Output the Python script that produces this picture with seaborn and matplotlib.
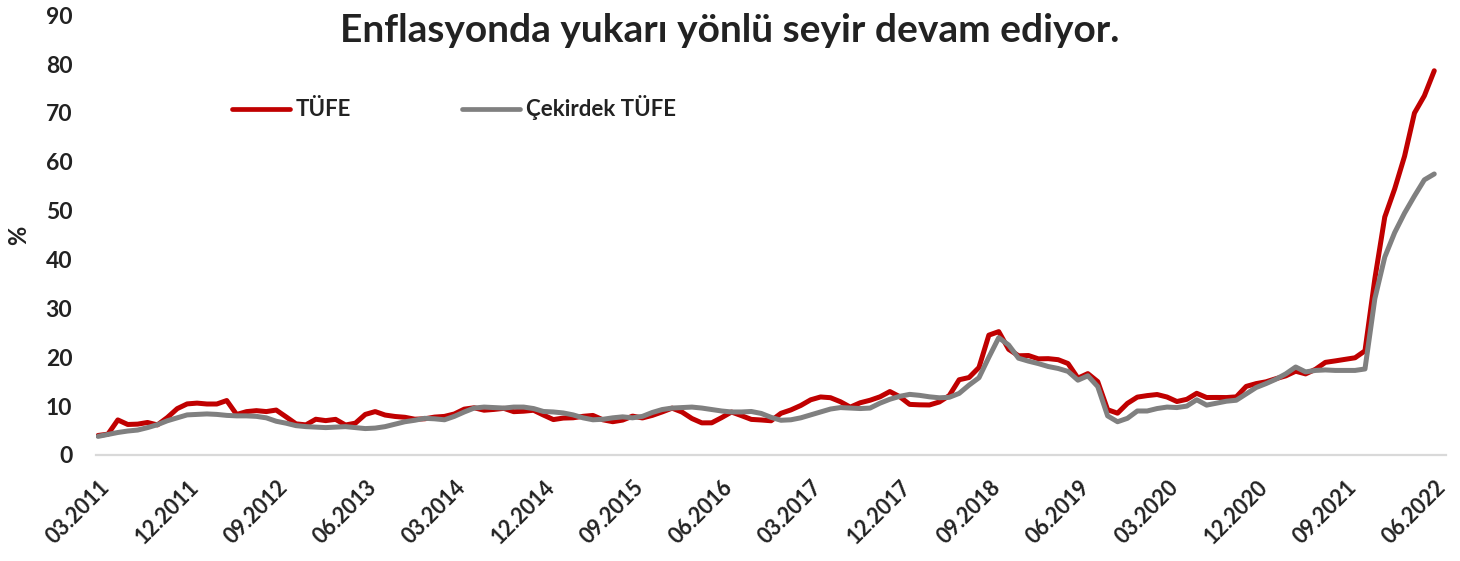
import matplotlib
matplotlib.use("Agg")
import matplotlib.pyplot as plt
import matplotlib.transforms as mtransforms
import pandas as pd
import seaborn as sns

# Monthly annual inflation, 03.2011 - 06.2022 (%)
tufe = [
    3.99, 4.26, 7.17, 6.24, 6.31, 6.65, 6.15, 7.66, 9.48, 10.45,              # 2011 (Mar-Dec)
    10.61, 10.43, 10.43, 11.14, 8.28, 8.87, 9.07, 8.88, 9.19, 7.80, 6.37, 6.16,  # 2012
    7.31, 7.03, 7.29, 6.13, 6.51, 8.30, 8.88, 8.17, 7.88, 7.71, 7.32, 7.40,    # 2013
    7.75, 7.89, 8.39, 9.38, 9.66, 9.16, 9.32, 9.54, 8.86, 8.96, 9.15, 8.17,    # 2014
    7.24, 7.55, 7.61, 7.91, 8.09, 7.20, 6.81, 7.14, 7.95, 7.58, 8.10, 8.81,    # 2015
    9.58, 8.78, 7.46, 6.57, 6.58, 7.64, 8.79, 8.05, 7.28, 7.16, 7.00, 8.53,    # 2016
    9.22, 10.13, 11.29, 11.87, 11.72, 10.90, 9.79, 10.68, 11.20, 11.90, 12.98, 11.92,  # 2017
    10.35, 10.26, 10.23, 10.85, 12.15, 15.39, 15.85, 17.90, 24.52, 25.24, 21.62, 20.30,  # 2018
    20.35, 19.67, 19.71, 19.50, 18.71, 15.72, 16.65, 15.01, 9.26, 8.55, 10.56, 11.84,  # 2019
    12.15, 12.37, 11.86, 10.94, 11.39, 12.62, 11.76, 11.77, 11.75, 11.89, 14.03, 14.60,  # 2020
    14.97, 15.61, 16.19, 17.14, 16.59, 17.53, 18.95, 19.25, 19.58, 19.89, 21.31, 36.08,  # 2021
    48.69, 54.44, 61.14, 69.97, 73.50, 78.62,                                    # 2022 (Jan-Jun)
]

cekirdek = [
    3.8, 4.2, 4.6, 4.9, 5.1, 5.6, 6.2, 7.0, 7.6, 8.2,
    8.3, 8.4, 8.3, 8.1, 8.0, 8.0, 7.9, 7.6, 6.9, 6.5, 6.0, 5.8,
    5.7, 5.6, 5.7, 5.8, 5.6, 5.4, 5.5, 5.8, 6.3, 6.8, 7.1, 7.5,
    7.4, 7.2, 7.9, 8.8, 9.6, 9.8, 9.7, 9.6, 9.8, 9.8, 9.5, 8.9,
    8.8, 8.6, 8.2, 7.6, 7.2, 7.3, 7.6, 7.8, 7.6, 7.9, 8.7, 9.3,
    9.6, 9.7, 9.8, 9.6, 9.3, 9.0, 8.8, 8.8, 8.9, 8.5, 7.7, 7.1,
    7.2, 7.6, 8.2, 8.8, 9.4, 9.7, 9.6, 9.5, 9.6, 10.6, 11.4, 12.0,
    12.4, 12.2, 11.9, 11.7, 11.8, 12.6, 14.3, 15.8, 20.0, 24.0, 22.5, 19.8,
    19.2, 18.7, 18.1, 17.7, 17.1, 15.3, 16.2, 14.0, 8.0, 6.8, 7.5, 9.0,
    9.0, 9.5, 9.8, 9.7, 10.0, 11.3, 10.2, 10.6, 11.0, 11.2, 12.5, 13.8,
    14.6, 15.5, 16.6, 18.0, 17.0, 17.3, 17.4, 17.3, 17.3, 17.3, 17.6, 32.0,
    40.5, 45.5, 49.5, 53.0, 56.3, 57.5,
]

tick_labels = ["03.2011", "12.2011", "09.2012", "06.2013", "03.2014", "12.2014",
               "09.2015", "06.2016", "03.2017", "12.2017", "09.2018", "06.2019",
               "03.2020", "12.2020", "09.2021", "06.2022"]

series_names = ["TÜFE", "Çekirdek TÜFE"]
colors = ["#C00000", "#808080"]

n = len(tufe)
df = pd.DataFrame({
    "t": list(range(n)) * 2,
    "value": tufe + cekirdek,
    "seri": [series_names[0]] * n + [series_names[1]] * n,
})

sns.set_style("white")
plt.rcParams["font.family"] = ["Lato", "DejaVu Sans"]

fig = plt.figure(figsize=(14.6, 5.61), dpi=100)
ax = fig.add_axes([0.0658, 0.189, 0.9247, 0.784])

sns.lineplot(data=df, x="t", y="value", hue="seri", hue_order=series_names,
             palette=colors, linewidth=3.6, ax=ax)

ax.set_xlim(-0.2, 136.2)
ax.set_ylim(0, 90)
ax.set_yticks(range(0, 91, 10))
ax.set_xticks(range(0, n, 9))
ax.set_xticklabels(tick_labels)

for s in ["top", "right", "left"]:
    ax.spines[s].set_visible(False)
ax.spines["bottom"].set_color("#D9D9D9")
ax.spines["bottom"].set_linewidth(1.6)

ax.tick_params(axis="y", length=0, pad=17, labelsize=16.5, labelcolor="#222222")
ax.tick_params(axis="x", length=6, width=1.4, color="#D9D9D9", pad=15,
               labelsize=15.5, labelcolor="#222222")
offset = mtransforms.ScaledTranslation(8 / 100, 0, fig.dpi_scale_trans)
for lbl in ax.get_xticklabels():
    lbl.set_rotation(45)
    lbl.set_ha("right")
    lbl.set_va("center")
    lbl.set_rotation_mode("anchor")
    lbl.set_fontweight("bold")
    lbl.set_transform(lbl.get_transform() + offset)
for lbl in ax.get_yticklabels():
    lbl.set_fontweight("bold")

ax.set_xlabel("")
ax.set_ylabel("%", fontsize=17, fontweight="bold", color="#222222", labelpad=11)

fig.text(0.5, 0.945, "Enflasyonda yukarı yönlü seyir devam ediyor.",
         ha="center", va="center", fontsize=28, fontweight="bold", color="#222222")

sns.move_legend(ax, "center left", bbox_to_anchor=(0.159, 0.8075),
                bbox_transform=fig.transFigure, ncol=2, frameon=False, title=None,
                fontsize=16, handlelength=2.6, handletextpad=0.27,
                columnspacing=5.0, borderpad=0, borderaxespad=0)
leg = ax.get_legend()
for h in leg.legend_handles:
    h.set_linewidth(3.4)
for t in leg.get_texts():
    t.set_fontweight("bold")
    t.set_color("#222222")

fig.savefig("out.png", dpi=100)
